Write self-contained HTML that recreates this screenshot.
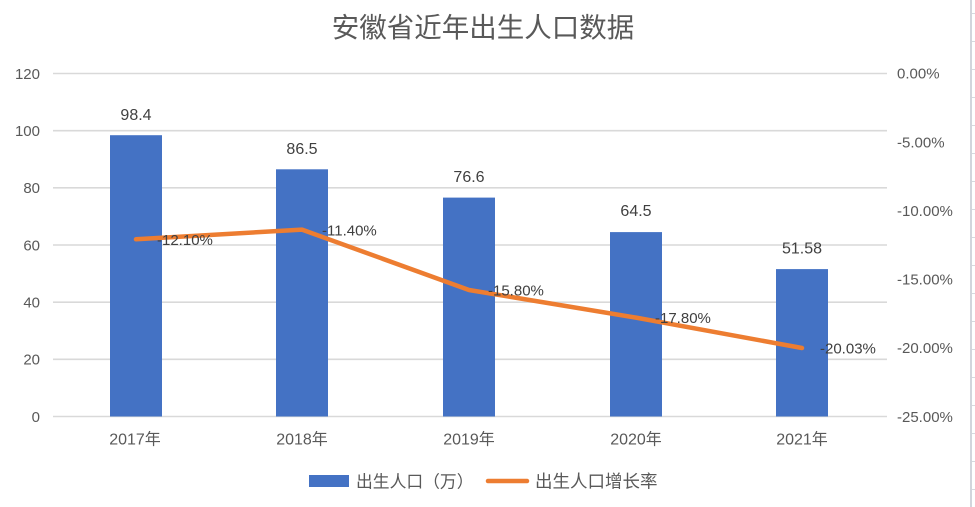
<!DOCTYPE html>
<html>
<head>
<meta charset="utf-8">
<style>
  html,body{margin:0;padding:0;background:#fff;}
  body{width:975px;height:507px;overflow:hidden;}
  svg{display:block;}
  text{font-family:"Liberation Sans","Noto Sans CJK SC",sans-serif;fill:#595959;}
  .dl{fill:#404040;}
</style>
</head>
<body>
<svg width="975" height="507" viewBox="0 0 975 507" xmlns="http://www.w3.org/2000/svg">
  <rect x="0" y="0" width="975" height="507" fill="#fff"/>

  <!-- spreadsheet right border -->
  <rect x="970" y="0" width="2" height="507" fill="#d2d5dc"/>
  <g stroke="#d6d9df" stroke-width="1">
    <line x1="972" y1="13.5" x2="975" y2="13.5"/>
    <line x1="972" y1="41.5" x2="975" y2="41.5"/>
    <line x1="972" y1="69.5" x2="975" y2="69.5"/>
    <line x1="972" y1="97.5" x2="975" y2="97.5"/>
    <line x1="972" y1="125.5" x2="975" y2="125.5"/>
    <line x1="972" y1="153.5" x2="975" y2="153.5"/>
    <line x1="972" y1="181.5" x2="975" y2="181.5"/>
    <line x1="972" y1="209.5" x2="975" y2="209.5"/>
    <line x1="972" y1="237.5" x2="975" y2="237.5"/>
    <line x1="972" y1="265.5" x2="975" y2="265.5"/>
    <line x1="972" y1="293.5" x2="975" y2="293.5"/>
    <line x1="972" y1="321.5" x2="975" y2="321.5"/>
    <line x1="972" y1="349.5" x2="975" y2="349.5"/>
    <line x1="972" y1="377.5" x2="975" y2="377.5"/>
    <line x1="972" y1="405.5" x2="975" y2="405.5"/>
    <line x1="972" y1="433.5" x2="975" y2="433.5"/>
    <line x1="972" y1="461.5" x2="975" y2="461.5"/>
    <line x1="972" y1="489.5" x2="975" y2="489.5"/>
  </g>

  <!-- title -->
  <text x="483" y="37" font-size="27.5" text-anchor="middle">安徽省近年出生人口数据</text>

  <!-- gridlines -->
  <g stroke="#d9d9d9" stroke-width="1.6">
    <line x1="53" y1="73.5" x2="887" y2="73.5"/>
    <line x1="53" y1="130.7" x2="887" y2="130.7"/>
    <line x1="53" y1="187.8" x2="887" y2="187.8"/>
    <line x1="53" y1="245" x2="887" y2="245"/>
    <line x1="53" y1="302.2" x2="887" y2="302.2"/>
    <line x1="53" y1="359.3" x2="887" y2="359.3"/>
    <line x1="53" y1="416.5" x2="887" y2="416.5"/>
  </g>

  <!-- left axis labels -->
  <g font-size="15" text-anchor="end">
    <text x="40" y="79">120</text>
    <text x="40" y="136">100</text>
    <text x="40" y="193">80</text>
    <text x="40" y="250.5">60</text>
    <text x="40" y="307.5">40</text>
    <text x="40" y="364.5">20</text>
    <text x="40" y="422">0</text>
  </g>

  <!-- right axis labels -->
  <g font-size="15">
    <text x="897" y="78.5">0.00%</text>
    <text x="897" y="147.5">-5.00%</text>
    <text x="897" y="216">-10.00%</text>
    <text x="897" y="284.5">-15.00%</text>
    <text x="897" y="353">-20.00%</text>
    <text x="897" y="422">-25.00%</text>
  </g>

  <!-- bars -->
  <g fill="#4472c4">
    <rect x="110" y="135.2" width="52" height="281.3"/>
    <rect x="276" y="169.3" width="52" height="247.2"/>
    <rect x="443" y="197.6" width="52" height="218.9"/>
    <rect x="610" y="232.1" width="52" height="184.4"/>
    <rect x="776" y="269.1" width="52" height="147.4"/>
  </g>

  <!-- bar labels -->
  <g font-size="16" text-anchor="middle" class="dl">
    <text class="dl" x="136" y="119.8">98.4</text>
    <text class="dl" x="302" y="153.8">86.5</text>
    <text class="dl" x="469" y="181.8">76.6</text>
    <text class="dl" x="636" y="215.8">64.5</text>
    <text class="dl" x="802" y="253.5">51.58</text>
  </g>

  <!-- line -->
  <polyline points="136,239.3 302,229.6 469,290 636,317.6 802,348"
    fill="none" stroke="#ed7d31" stroke-width="4.5" stroke-linejoin="round" stroke-linecap="round"/>

  <!-- line labels -->
  <g font-size="15">
    <text class="dl" x="157" y="245">-12.10%</text>
    <text class="dl" x="322" y="235.5">-11.40%</text>
    <text class="dl" x="488" y="295.5">-15.80%</text>
    <text class="dl" x="655" y="323">-17.80%</text>
    <text class="dl" x="820" y="353.5">-20.03%</text>
  </g>

  <!-- x axis labels -->
  <g font-size="16" text-anchor="middle">
    <text x="135" y="444.5">2017年</text>
    <text x="302" y="444.5">2018年</text>
    <text x="469" y="444.5">2019年</text>
    <text x="636" y="444.5">2020年</text>
    <text x="802" y="444.5">2021年</text>
  </g>

  <!-- legend -->
  <rect x="309" y="475" width="40" height="12" fill="#4472c4"/>
  <text x="356" y="487.5" font-size="16.8">出生人口（万）</text>
  <line x1="488" y1="481" x2="527" y2="481" stroke="#ed7d31" stroke-width="4.5" stroke-linecap="round"/>
  <text x="535" y="487.5" font-size="17.5">出生人口增长率</text>
</svg>
</body>
</html>
